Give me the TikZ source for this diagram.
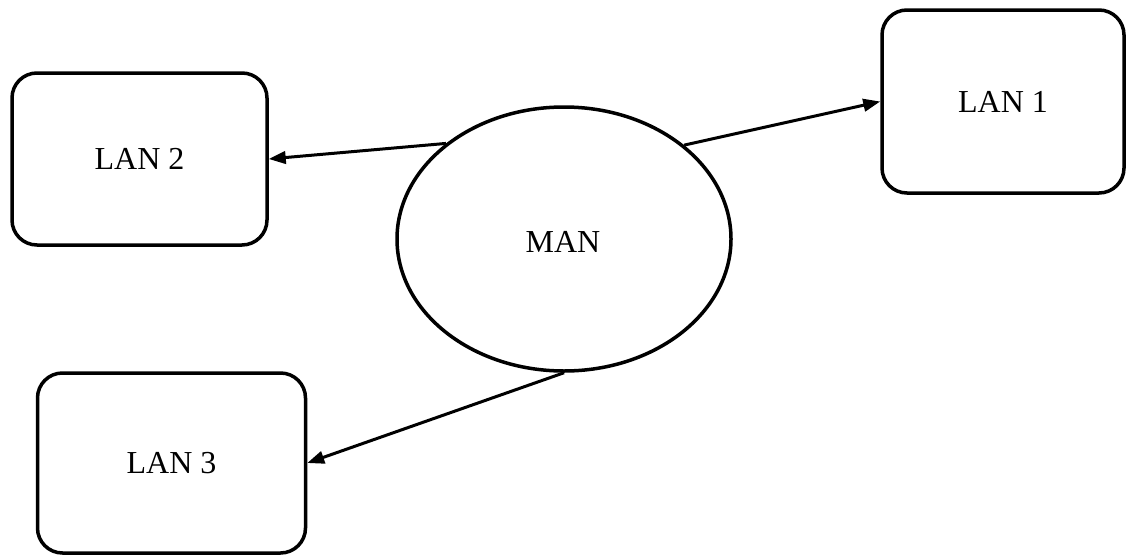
\documentclass[tikz,border=0pt]{standalone}
\usepackage{fontspec}
\setmainfont{Liberation Serif}
\usetikzlibrary{shapes.geometric,arrows.meta}
\begin{document}
\begin{tikzpicture}[x=1pt,y=-1pt,
  lanbox/.style={draw=black, line width=3.5pt, rounded corners=25pt, inner sep=0pt, font=\fontsize{32}{36}\selectfont},
  manshape/.style={draw=black, line width=3.5pt, ellipse, inner sep=0pt},
  link/.style={line width=3pt, -{Triangle[length=17pt,width=12.5pt]}}]
\useasboundingbox (0,0) rectangle (1126,554);
\node[lanbox, minimum width=242pt, minimum height=183pt] (lan1) at (1003,101.5) {LAN 1};
\node[lanbox, minimum width=255pt, minimum height=172pt] (lan2) at (139.5,159) {LAN 2};
\node[lanbox, minimum width=268pt, minimum height=180pt] (lan3) at (171.5,463) {LAN 3};
\node[manshape, minimum width=334pt, minimum height=264pt] (man) at (564,239) {};
\node[font=\fontsize{32}{36}\selectfont] (mantext) at (563,242) {MAN};
\draw[link] (man.141.8) -- (lan2.east);
\draw[link] (man.38.8) -- (lan1.west);
\draw[link] (man.south) -- (lan3.east);
\end{tikzpicture}
\end{document}
